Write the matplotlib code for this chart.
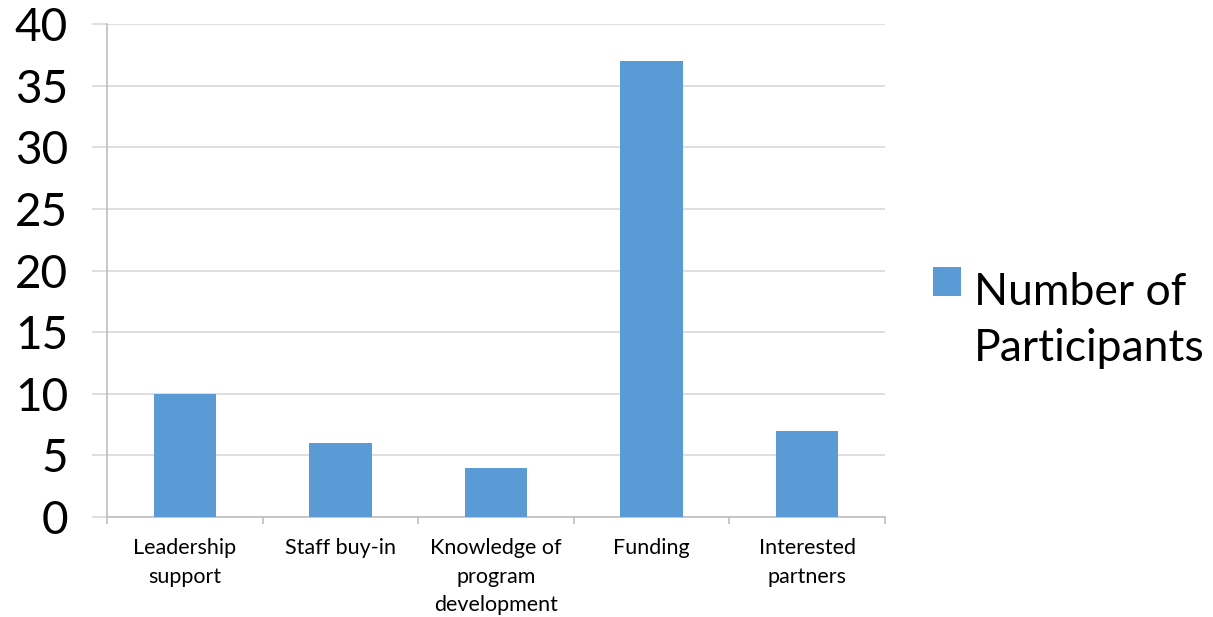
import numpy as np
import matplotlib.pyplot as plt
from matplotlib.ticker import FixedLocator

plt.rcParams['font.family'] = ['Lato', 'DejaVu Sans']

categories = ['Leadership\nsupport', 'Staff buy-in', 'Knowledge of\nprogram\ndevelopment',
              'Funding', 'Interested\npartners']
participants = [10, 6, 4, 37, 7]
y_ticks = [0, 5, 10, 15, 20, 25, 30, 35, 40]

fig = plt.figure(figsize=(12.13, 6.17), dpi=100)
ax = fig.add_axes([107 / 1213, 1 - 517 / 617, (885 - 107) / 1213, (517 - 24) / 617])

x = np.arange(len(categories))
ax.bar(x, participants, width=0.40, color='#5B9BD5', label='Number of\nParticipants', zorder=3)

ax.set_xlim(-0.5, len(categories) - 0.5)
ax.set_ylim(0, 40)
ax.set_yticks(y_ticks)
ax.set_yticklabels([str(t) for t in y_ticks], fontsize=33)
ax.yaxis.grid(True, color='#D9D9D9', linewidth=1.2, zorder=0)

ax.set_xticks(x)
ax.set_xticklabels(categories, fontsize=15.5, linespacing=1.55, va='top')
ax.xaxis.set_minor_locator(FixedLocator(np.arange(len(categories) + 1) - 0.5))
ax.tick_params(axis='x', which='major', length=0, pad=15)
ax.tick_params(axis='x', which='minor', length=5, color='#BFBFBF', width=1.2)
ax.tick_params(axis='y', length=11, color='#D9D9D9', width=1.2, pad=17)

for side in ['top', 'right']:
    ax.spines[side].set_visible(False)
ax.spines['left'].set_color('#BFBFBF')
ax.spines['bottom'].set_color('#BFBFBF')
ax.spines['left'].set_linewidth(1.2)
ax.spines['bottom'].set_linewidth(1.2)

leg = ax.legend(loc='center left', bbox_to_anchor=(1.062, 0.48), frameon=False,
                fontsize=32, handlelength=0.62, handleheight=0.62, handletextpad=0.3,
                borderaxespad=0, borderpad=0)
for t in leg.get_texts():
    t.set_linespacing(1.45)
    t.set_verticalalignment('center')

fig.savefig('out.png', dpi=100)
